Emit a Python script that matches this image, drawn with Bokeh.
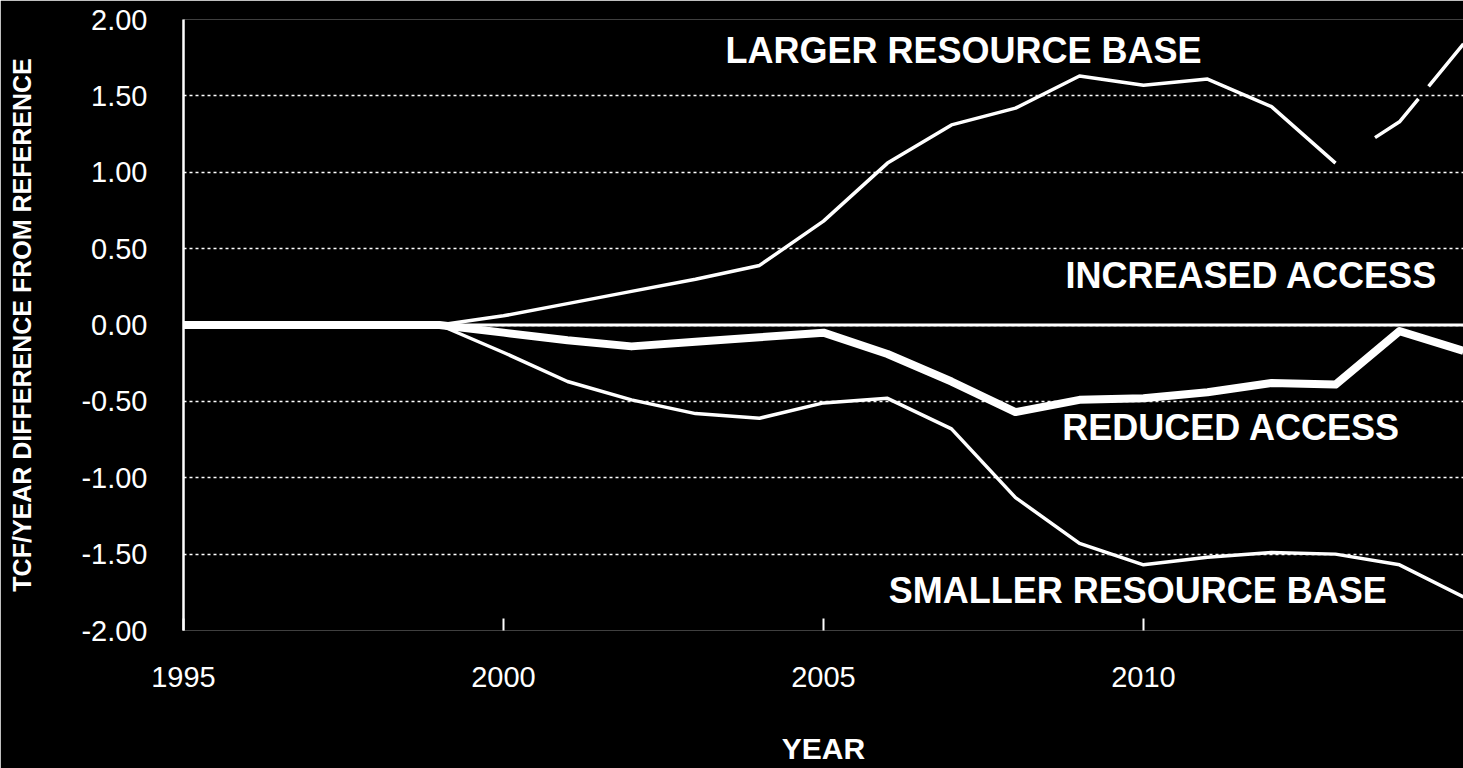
from bokeh.plotting import figure
from bokeh.models import Label, FixedTicker, Range1d
from bokeh.embed import file_html
from bokeh.resources import INLINE

# ---- data ----
years = list(range(1995, 2016))
larger_resource_base = [0, 0, 0, 0, 0, 0.06, 0.14, 0.22, 0.30, 0.39, 0.68,
                        1.06, 1.31, 1.42, 1.63, 1.57, 1.61, 1.43, 1.06, 1.33, 1.84]
reduced_access = [0, 0, 0, 0, 0, -0.05, -0.10, -0.14, -0.11, -0.08, -0.05,
                  -0.19, -0.37, -0.57, -0.49, -0.48, -0.44, -0.38, -0.39, -0.04, -0.17]
smaller_resource_base = [0, 0, 0, 0, 0, -0.18, -0.37, -0.49, -0.58, -0.61, -0.51,
                         -0.48, -0.68, -1.13, -1.43, -1.57, -1.52, -1.49, -1.50, -1.57, -1.78]
increased_access = [0] * 21

y_ticks = [-2.0, -1.5, -1.0, -0.5, 0.0, 0.5, 1.0, 1.5, 2.0]
y_tick_labels = ["-2.00", "-1.50", "-1.00", "-0.50", "0.00", "0.50", "1.00", "1.50", "2.00"]
x_ticks = [1995, 2000, 2005, 2010]
x_tick_labels = ["1995", "2000", "2005", "2010"]

series_names = ["LARGER RESOURCE BASE", "INCREASED ACCESS", "REDUCED ACCESS", "SMALLER RESOURCE BASE"]
x_title = "YEAR"
y_title = "TCF/YEAR DIFFERENCE FROM REFERENCE"

# ---- figure ----
p = figure(width=1463, height=768, x_range=Range1d(1995, 2015), y_range=Range1d(-2, 2),
           output_backend="svg", toolbar_location=None,
           min_border_left=183, min_border_right=0, min_border_top=19, min_border_bottom=138)
p.background_fill_color = "black"
p.border_fill_color = "black"
p.outline_line_color = None

# grid
p.xgrid.grid_line_color = None
p.ygrid.ticker = FixedTicker(ticks=y_ticks)
p.ygrid.grid_line_color = "white"
p.ygrid.grid_line_dash = "3 3"
p.ygrid.grid_line_width = 1.6

# y axis
p.yaxis.ticker = FixedTicker(ticks=y_ticks)
p.yaxis.major_label_overrides = {t: l for t, l in zip(y_ticks, y_tick_labels)}
p.yaxis.axis_line_color = "white"
p.yaxis.axis_line_width = 2.5
p.yaxis.major_tick_in = 0
p.yaxis.major_tick_out = 0
p.yaxis.minor_tick_line_color = None
p.yaxis.major_label_standoff = 36
p.yaxis.major_label_text_color = "white"
p.yaxis.major_label_text_font = "Liberation Sans"
p.yaxis.major_label_text_font_size = "29px"
p.yaxis.axis_label = y_title
p.yaxis.axis_label_standoff = 42
p.yaxis.axis_label_text_color = "white"
p.yaxis.axis_label_text_font = "Liberation Sans"
p.yaxis.axis_label_text_font_style = "bold"
p.yaxis.axis_label_text_font_size = "25px"

# x axis
p.xaxis.ticker = FixedTicker(ticks=x_ticks)
p.xaxis.major_label_overrides = {t: l for t, l in zip(x_ticks, x_tick_labels)}
p.xaxis.axis_line_color = None
p.xaxis.major_tick_in = 12
p.xaxis.major_tick_out = 0
p.xaxis.major_tick_line_color = "white"
p.xaxis.major_tick_line_width = 2
p.xaxis.minor_tick_line_color = None
p.xaxis.major_label_standoff = 36
p.xaxis.major_label_text_color = "white"
p.xaxis.major_label_text_font = "Liberation Sans"
p.xaxis.major_label_text_font_size = "29px"
p.xaxis.axis_label = x_title
p.xaxis.axis_label_standoff = 42
p.xaxis.axis_label_text_color = "white"
p.xaxis.axis_label_text_font = "Liberation Sans"
p.xaxis.axis_label_text_font_style = "bold"
p.xaxis.axis_label_text_font_size = "30px"

# ---- series ----
p.line(years, increased_access, line_color="white", line_width=3)
p.line(years, reduced_access, line_color="white", line_width=8, line_join="round")
p.line(years, smaller_resource_base, line_color="white", line_width=3.5, line_join="round")
p.line(years[:19], larger_resource_base[:19], line_color="white", line_width=3.5, line_join="round")
p.line(years[18:], larger_resource_base[18:], line_color="white", line_width=3.5,
       line_join="round", line_dash="0 47 59 16 400")

# ---- series annotations (vertically centred on the given value) ----
label_pos = [(2003.47, 1.797), (2008.78, 0.321), (2008.73, -0.674), (2006.02, -1.738)]
for name, (lx, ly) in zip(series_names, label_pos):
    p.add_layout(Label(x=lx, y=ly, text=name, text_color="white",
                       text_font="Liberation Sans", text_font_style="bold",
                       text_font_size="36px", text_align="left", text_baseline="middle"))

open("out.html", "w").write(file_html(p, INLINE))
